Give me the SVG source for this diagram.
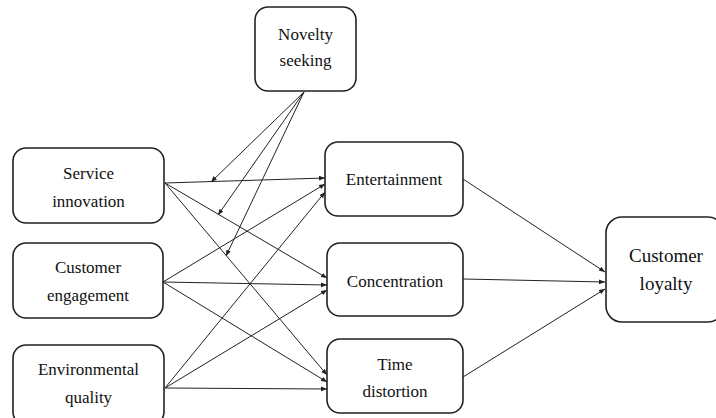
<svg xmlns="http://www.w3.org/2000/svg" width="716" height="418" viewBox="0 0 716 418">
<defs>
<marker id="ah" viewBox="0 0 10 10" refX="10" refY="5" markerWidth="6" markerHeight="6" orient="auto" markerUnits="userSpaceOnUse">
<path d="M0,1 L10,5 L0,9 Z" fill="#222"/>
</marker>
<style>
.box{fill:#fff;stroke:#222;stroke-width:1.6}
.t{font-family:"Liberation Serif","Times New Roman",serif;font-size:17px;fill:#111;text-anchor:middle}
.tl{font-family:"Liberation Serif","Times New Roman",serif;font-size:19px;fill:#111;text-anchor:middle}
.c{stroke:#222;stroke-width:1;fill:none;marker-end:url(#ah)}
</style>
</defs>
<rect width="716" height="418" fill="#fff"/>
<g id="connectors">
<line class="c" x1="165" y1="183" x2="325" y2="178"/>
<line class="c" x1="165" y1="183" x2="327" y2="278"/>
<line class="c" x1="165" y1="183" x2="327" y2="375"/>
<line class="c" x1="163" y1="282" x2="325" y2="184"/>
<line class="c" x1="163" y1="282" x2="327" y2="285"/>
<line class="c" x1="163" y1="282" x2="327" y2="382"/>
<line class="c" x1="165" y1="388" x2="325" y2="192"/>
<line class="c" x1="165" y1="388" x2="327" y2="290"/>
<line class="c" x1="165" y1="388" x2="327" y2="389"/>
<line class="c" x1="304" y1="92" x2="211" y2="182"/>
<line class="c" x1="304" y1="92" x2="218" y2="215"/>
<line class="c" x1="304" y1="92" x2="226" y2="256"/>
<line class="c" x1="463" y1="179" x2="605" y2="272"/>
<line class="c" x1="463" y1="279" x2="605" y2="282"/>
<line class="c" x1="463" y1="377" x2="605" y2="289"/>
</g>
<g id="novelty">
<rect class="box" x="255" y="7" width="101" height="84" rx="13"/>
<text class="t" x="305.5" y="40">Novelty</text>
<text class="t" x="305.5" y="66">seeking</text>
</g>
<g id="service">
<rect class="box" x="13" y="148" width="151" height="75" rx="13"/>
<text class="t" x="88.5" y="179">Service</text>
<text class="t" x="88.5" y="207">innovation</text>
</g>
<g id="engagement">
<rect class="box" x="13" y="243" width="150" height="75" rx="13"/>
<text class="t" x="88" y="273">Customer</text>
<text class="t" x="88" y="301">engagement</text>
</g>
<g id="environment">
<rect class="box" x="13" y="345" width="151" height="80" rx="13"/>
<text class="t" x="88.5" y="375">Environmental</text>
<text class="t" x="88.5" y="403">quality</text>
</g>
<g id="entertainment">
<rect class="box" x="325" y="142" width="138" height="74" rx="13"/>
<text class="t" x="394" y="185">Entertainment</text>
</g>
<g id="concentration">
<rect class="box" x="327" y="243" width="136" height="73" rx="13"/>
<text class="t" x="395" y="287">Concentration</text>
</g>
<g id="time">
<rect class="box" x="327" y="339" width="136" height="74" rx="13"/>
<text class="t" x="395" y="370">Time</text>
<text class="t" x="395" y="397">distortion</text>
</g>
<g id="loyalty">
<rect class="box" x="606" y="217" width="118" height="105" rx="16"/>
<text class="tl" x="666" y="262">Customer</text>
<text class="tl" x="666" y="290">loyalty</text>
</g>
</svg>
